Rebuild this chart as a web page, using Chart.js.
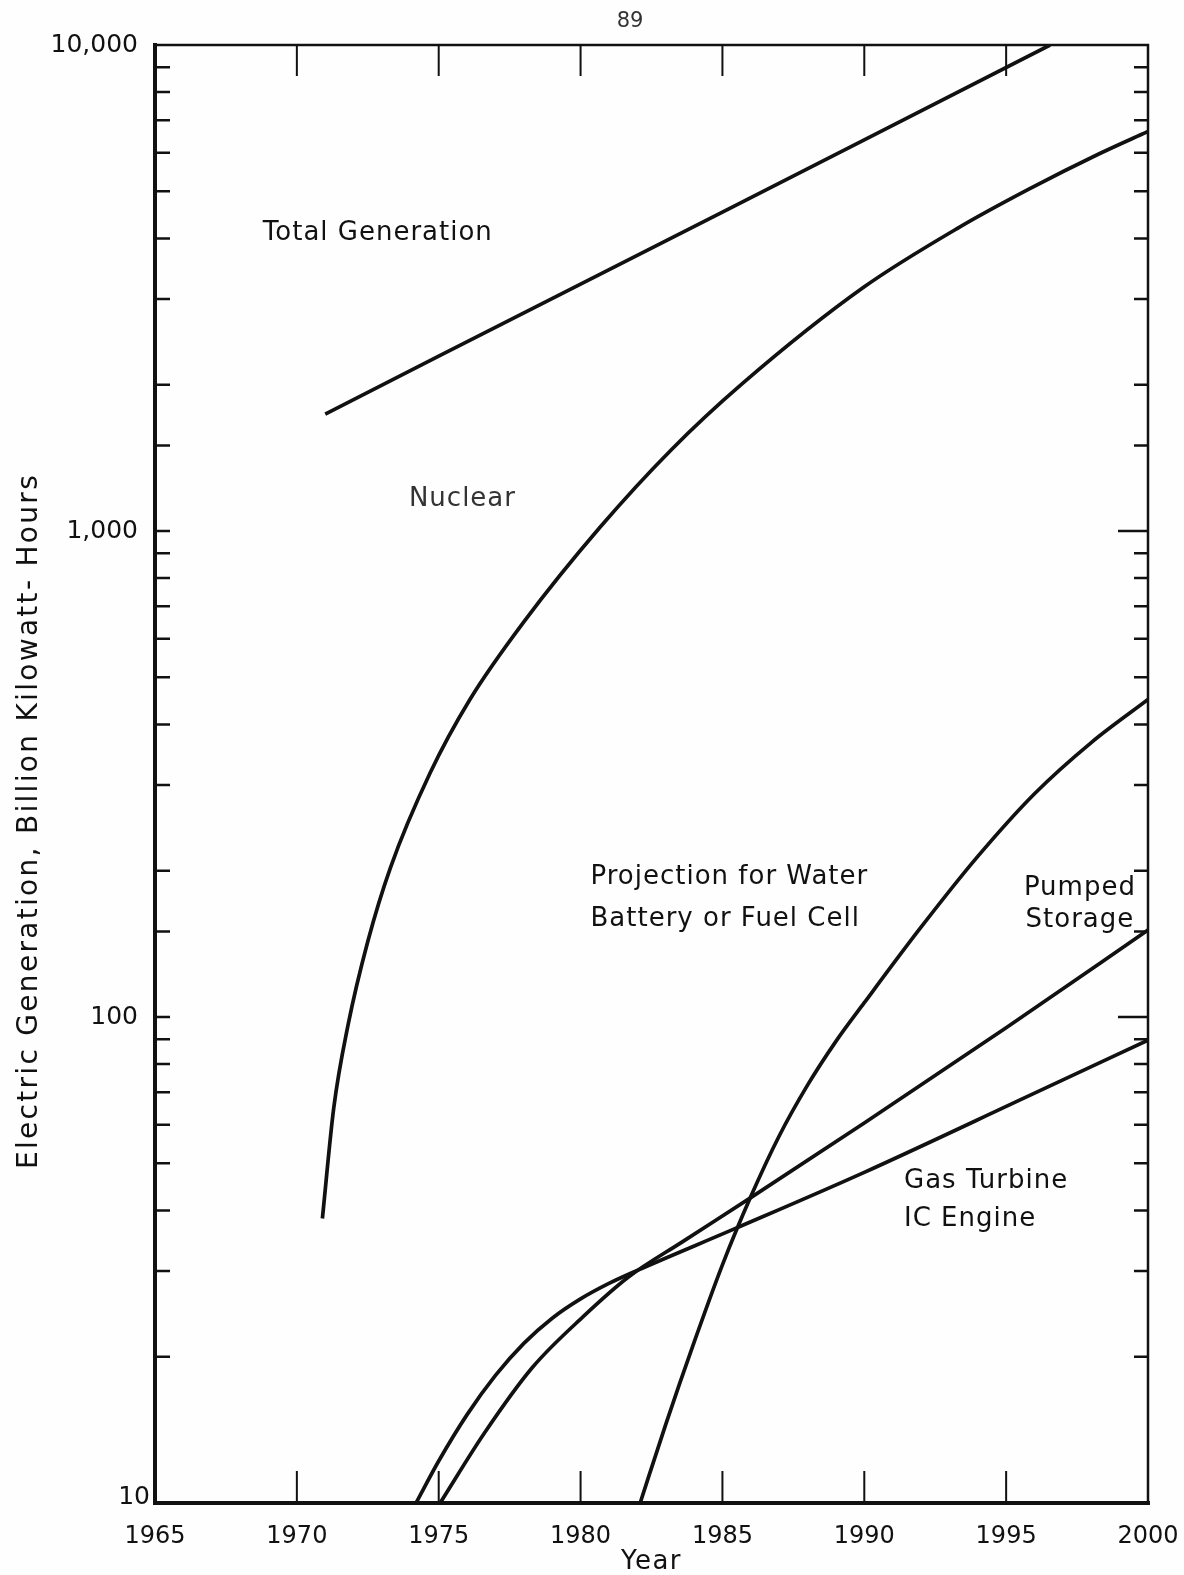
<!DOCTYPE html>
<html>
<head>
<meta charset="utf-8">
<title>Electric Generation</title>
<script src="https://cdn.jsdelivr.net/npm/chart.js@4.4.1/dist/chart.umd.min.js"></script>
<style>
  html, body { margin: 0; padding: 0; background: #fefefe; overflow: hidden; }
  #wrap { width: 1184px; height: 1575px; position: relative; }
  canvas { display: block; }
</style>
</head>
<body>
<div id="wrap"><canvas id="genChart"></canvas></div>
<script>
// Values (year, billion kWh)
const totalYears = [1971, 1975, 1980, 1985, 1990, 1996.55];
const totalValues = [1740, 2290, 3220, 4530, 6380, 10000];

const nuclearYears = [1970.9, 1971.3, 1971.8, 1972.5, 1973.3, 1974.7, 1976.1, 1978.0, 1980.7, 1983.2, 1985.7, 1990.0, 1993.3, 1995.8, 1998.3, 2000];
const nuclearValues = [38.5, 65, 96, 143, 203, 318, 450, 650, 1020, 1470, 2010, 3180, 4200, 5050, 5980, 6640];

const fuelCellYears = [1982.1, 1983, 1984, 1985, 1986, 1987, 1988, 1989, 1990, 1992, 1994, 1996, 1998, 2000];
const fuelCellValues = [10, 14.5, 21.4, 30.9, 42.7, 56.9, 72.4, 89.1, 107, 153, 214, 288, 367, 450];

const pumpedYears = [1975.05, 1976.6, 1978.3, 1980.1, 1981.7, 1983.6, 1986.0, 1990.0, 1995.0, 2000];
const pumpedValues = [10, 13.9, 19.0, 24.2, 29.2, 34.5, 42.5, 60.5, 95, 151];

const gasTurbineYears = [1974.2, 1975, 1976, 1977, 1978, 1979, 1980, 1981, 1982, 1985.4, 1990.0, 1995.7, 2000];
const gasTurbineValues = [10, 12.2, 15.2, 18.3, 21.3, 24.0, 26.3, 28.3, 30.1, 36.6, 47.9, 68.4, 89.6];

// Axis ticks
const yearTicks = [1965, 1970, 1975, 1980, 1985, 1990, 1995, 2000];
const decadeTicks = [10, 100, 1000, 10000];

// Curve labels, anchored in data units
const curveLabels = [
  { lines: ["Total Generation"], year: 1968.8, value: 4100, align: "left", gap: 0 },
  { lines: ["Nuclear"], year: 1973.95, value: 1160, align: "left", gap: 0, color: "#333" },
  { lines: ["Projection for Water", "Battery or Fuel Cell"], year: 1980.35, value: 194, align: "left", gap: 42 },
  { lines: ["Pumped", "Storage"], year: 1997.6, value: 184, align: "center", gap: 32 },
  { lines: ["Gas Turbine", "IC Engine"], year: 1991.4, value: 46, align: "left", gap: 38 },
];

const FONT = "'DejaVu Sans', sans-serif";
const INK = "#111";

function toPoints(xs, ys) {
  return xs.map((x, i) => ({ x: x, y: ys[i] }));
}

function lineSet(label, xs, ys, smooth) {
  return {
    label: label,
    data: toPoints(xs, ys),
    borderColor: INK,
    borderWidth: 3.7,
    pointRadius: 0,
    fill: false,
    tension: 0,
    cubicInterpolationMode: smooth ? "monotone" : "default",
  };
}

// Frame, inward tick marks, titles, curve labels and page number
const paperPlugin = {
  id: "paperPlugin",
  afterDraw(chart) {
    const { ctx, chartArea, scales } = chart;
    const { left, right, top, bottom } = chartArea;
    ctx.save();
    ctx.strokeStyle = INK;
    ctx.lineCap = "square";

    // thin top and right edges
    ctx.lineWidth = 2.5;
    ctx.beginPath();
    ctx.moveTo(left, top);
    ctx.lineTo(right, top);
    ctx.lineTo(right, bottom);
    ctx.stroke();

    // heavy left and bottom edges
    ctx.lineWidth = 4;
    ctx.beginPath();
    ctx.moveTo(left, top);
    ctx.lineTo(left, bottom);
    ctx.lineTo(right, bottom);
    ctx.stroke();

    // log ticks on both sides
    ctx.lineCap = "butt";
    ctx.lineWidth = 2.5;
    scales.y.ticks.forEach((t) => {
      if (t.value <= 10 || t.value >= 10000) return;
      const py = scales.y.getPixelForValue(t.value);
      const major = decadeTicks.includes(t.value);
      ctx.beginPath();
      ctx.moveTo(left, py);
      ctx.lineTo(left + 15, py);
      ctx.moveTo(right, py);
      ctx.lineTo(right - (major ? 30 : 14), py);
      ctx.stroke();
    });

    // year ticks top and bottom
    ctx.lineWidth = 2;
    yearTicks.slice(1, -1).forEach((yr) => {
      const px = scales.x.getPixelForValue(yr);
      ctx.beginPath();
      ctx.moveTo(px, bottom);
      ctx.lineTo(px, bottom - 32);
      ctx.moveTo(px, top);
      ctx.lineTo(px, top + 31);
      ctx.stroke();
    });

    ctx.fillStyle = INK;
    ctx.textBaseline = "middle";

    // lowest decade label sits lower and closer to the axis
    ctx.font = "25px " + FONT;
    ctx.textAlign = "right";
    ctx.fillText("10", left - 5, scales.y.getPixelForValue(10) - 6);

    // curve labels
    ctx.letterSpacing = "1px";
    ctx.font = "26px " + FONT;
    curveLabels.forEach((lab) => {
      const px = scales.x.getPixelForValue(lab.year);
      const py = scales.y.getPixelForValue(lab.value);
      ctx.fillStyle = lab.color || INK;
      ctx.textAlign = lab.align;
      lab.lines.forEach((txt, i) => {
        ctx.fillText(txt, px, py + i * lab.gap);
      });
    });

    // axis titles
    ctx.fillStyle = INK;
    ctx.textAlign = "center";
    ctx.letterSpacing = "1.5px";
    ctx.font = "26px " + FONT;
    ctx.fillText("Year", (left + right) / 2, 1562);

    ctx.letterSpacing = "2.3px";
    ctx.font = "28px " + FONT;
    ctx.save();
    ctx.translate(30, 821);
    ctx.rotate(-Math.PI / 2);
    ctx.fillText("Electric Generation, Billion Kilowatt- Hours", 0, 0);
    ctx.restore();

    // page number
    ctx.letterSpacing = "0px";
    ctx.fillStyle = "#333";
    ctx.font = "21px " + FONT;
    ctx.fillText("89", 630, 22);
    ctx.restore();
  },
};

document.addEventListener("DOMContentLoaded", function () {
  const ctx = document.getElementById("genChart").getContext("2d");

  const genChart = new Chart(ctx, {
    type: "line",
    data: {
      datasets: [
        lineSet("Total Generation", totalYears, totalValues, false),
        lineSet("Nuclear", nuclearYears, nuclearValues, true),
        lineSet("Water Battery or Fuel Cell", fuelCellYears, fuelCellValues, true),
        lineSet("Pumped Storage", pumpedYears, pumpedValues, true),
        lineSet("Gas Turbine IC Engine", gasTurbineYears, gasTurbineValues, true),
      ],
    },
    options: {
      responsive: true,
      maintainAspectRatio: false,
      animation: false,
      events: [],
      layout: { padding: { top: 45, right: 36, left: 0, bottom: 0 } },
      plugins: {
        legend: { display: false },
        tooltip: { enabled: false },
      },
      scales: {
        x: {
          type: "linear",
          min: 1965,
          max: 2000,
          afterBuildTicks: (scale) => {
            scale.ticks = yearTicks.map((v) => ({ value: v }));
          },
          afterFit: (scale) => {
            // keep the end labels from squeezing the plot area
            scale.height = 72;
            scale.paddingLeft = 0;
            scale.paddingRight = 0;
          },
          grid: { display: false, drawTicks: false },
          border: { display: false },
          ticks: {
            color: INK,
            font: { family: FONT, size: 24 },
            padding: 19,
            maxRotation: 0,
            autoSkip: false,
            callback: (v) => String(v),
          },
        },
        y: {
          type: "logarithmic",
          min: 10,
          max: 10000,
          afterFit: (scale) => {
            scale.width = 155;
          },
          grid: { display: false, drawTicks: false },
          border: { display: false },
          ticks: {
            color: INK,
            font: { family: FONT, size: 25 },
            padding: 17,
            autoSkip: false,
            callback: (v) =>
              v !== 10 && decadeTicks.includes(v) ? Number(v).toLocaleString("en-US") : "",
          },
        },
      },
    },
    plugins: [paperPlugin],
  });
});
</script>
</body>
</html>
